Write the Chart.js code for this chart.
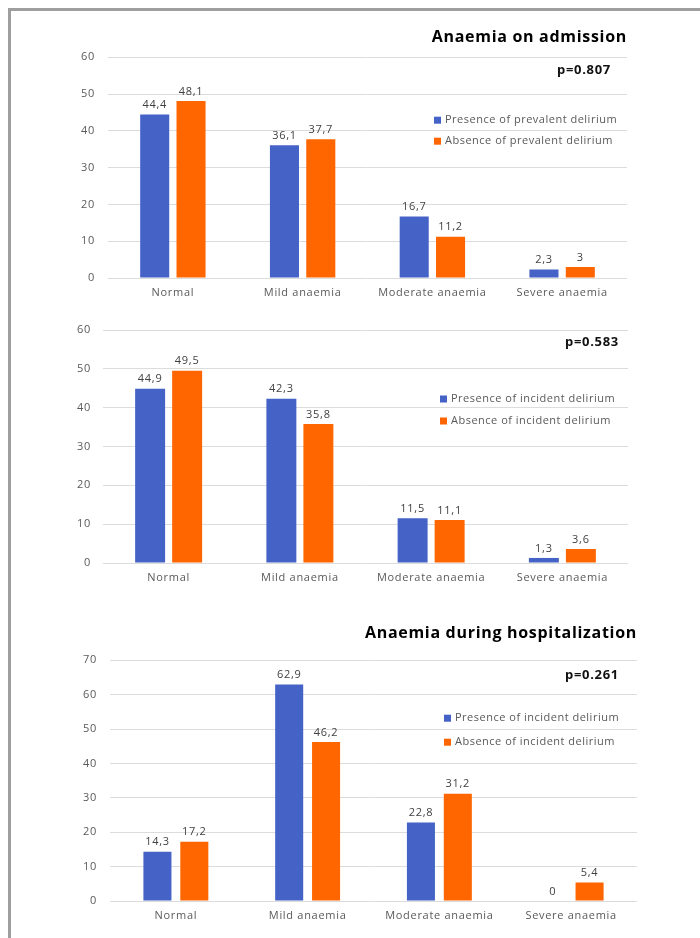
<!DOCTYPE html>
<html>
<head>
<meta charset="utf-8">
<script src="https://cdn.jsdelivr.net/npm/chart.js@4.4.0/dist/chart.umd.min.js"></script>
<style>
  body { margin: 0; background: #fff; width: 700px; height: 938px; position: relative; overflow: hidden; }
  .frame { position: absolute; left: 8px; top: 8px; width: 720px; height: 960px;
           border-top: 3px solid #9e9e9e; border-left: 3px solid #9e9e9e; }
  canvas { position: absolute; left: 0; }
</style>
</head>
<body>
<div class="frame"></div>
<canvas id="admissionPrevalent" width="700" height="300" style="top:10px"></canvas>
<canvas id="admissionIncident" width="700" height="285" style="top:310px"></canvas>
<canvas id="hospitalIncident" width="700" height="338" style="top:595px"></canvas>

<script>
const categories = ['Normal', 'Mild anaemia', 'Moderate anaemia', 'Severe anaemia'];

// % of patients in each anaemia group
const admissionPrevalentYes = [44.4, 36.1, 16.7, 2.3];
const admissionPrevalentNo = [48.1, 37.7, 11.2, 3];
const admissionIncidentYes = [44.9, 42.3, 11.5, 1.3];
const admissionIncidentNo = [49.5, 35.8, 11.1, 3.6];
const hospitalIncidentYes = [14.3, 62.9, 22.8, 0];
const hospitalIncidentNo = [17.2, 46.2, 31.2, 5.4];

const prevalentLabels = ['Presence of prevalent delirium', 'Absence of prevalent delirium'];
const incidentLabels = ['Presence of incident delirium', 'Absence of incident delirium'];

const BLUE = '#4562c6';
const ORANGE = '#ff6600';
const FONT = "'Open Sans', sans-serif";
const GREY_TEXT = '#595959';

// slightly wider lettering for every text on the canvas
const wideText = {
  id: 'wideText',
  beforeDraw(chart) {
    chart.ctx.letterSpacing = '0.7px';
  }
};

// numbers above each bar, with a decimal comma
const valueLabels = {
  id: 'valueLabels',
  afterDatasetsDraw(chart) {
    const ctx = chart.ctx;
    ctx.save();
    ctx.font = '11px ' + FONT;
    ctx.fillStyle = '#404040';
    ctx.textAlign = 'center';
    ctx.textBaseline = 'bottom';
    chart.data.datasets.forEach((ds, i) => {
      chart.getDatasetMeta(i).data.forEach((bar, j) => {
        ctx.fillText(String(ds.data[j]).replace('.', ','), bar.x, bar.y - 4);
      });
    });
    ctx.restore();
  }
};

// p-value and the legend that sits inside the plot area
const panelNotes = {
  id: 'panelNotes',
  afterDraw(chart, args, opts) {
    const ctx = chart.ctx;
    const area = chart.chartArea;
    ctx.save();
    ctx.font = 'bold 13px ' + FONT;
    ctx.fillStyle = '#111';
    ctx.textAlign = 'right';
    ctx.textBaseline = 'middle';
    ctx.fillText(opts.pValue, area.right - opts.pRight, area.top + opts.pTop);

    ctx.font = '11px ' + FONT;
    ctx.letterSpacing = '0.5px';
    ctx.textAlign = 'left';
    chart.data.datasets.forEach((ds, i) => {
      const x = area.right - opts.legendRight;
      const y = area.top + opts.legendTop + i * opts.legendGap;
      ctx.fillStyle = ds.backgroundColor;
      ctx.fillRect(x, y - 3.5, 7, 7);
      ctx.fillStyle = GREY_TEXT;
      ctx.fillText(ds.label, x + 11, y);
    });
    ctx.restore();
  }
};

function drawPanel(id, p) {
  new Chart(document.getElementById(id), {
    type: 'bar',
    data: {
      labels: categories,
      datasets: [
        { label: p.labels[0], data: p.yes, backgroundColor: BLUE },
        { label: p.labels[1], data: p.no, backgroundColor: ORANGE }
      ]
    },
    options: {
      responsive: false,
      animation: false,
      categoryPercentage: p.catPct,
      barPercentage: p.barPct,
      layout: { padding: { top: p.padTop, right: p.padRight, left: 0, bottom: 0 } },
      plugins: {
        legend: { display: false },
        tooltip: { enabled: false },
        title: {
          display: !!p.title,
          text: p.title,
          align: 'end',
          color: '#000',
          font: { family: FONT, size: 16, weight: 'bold' },
          padding: p.titlePad
        },
        panelNotes: p.notes
      },
      scales: {
        x: {
          grid: { display: false, drawTicks: false },
          border: { display: false },
          ticks: { color: GREY_TEXT, font: { family: FONT, size: 11 }, padding: 8 },
          afterFit: s => { s.height = 32; }
        },
        y: {
          min: 0,
          max: p.yMax,
          ticks: { stepSize: 10, color: GREY_TEXT, font: { family: FONT, size: 11 }, padding: p.tickPad },
          grid: { color: '#dcdcdc', drawTicks: false },
          border: { display: false },
          afterFit: s => { s.width = p.left; }
        }
      }
    },
    plugins: [wideText, valueLabels, panelNotes]
  });
}

drawPanel('admissionPrevalent', {
  yes: admissionPrevalentYes, no: admissionPrevalentNo, labels: prevalentLabels,
  title: 'Anaemia on admission', titlePad: { top: 18, bottom: 10 },
  yMax: 60, left: 108, padTop: 0, padRight: 73, tickPad: 13,
  catPct: 0.56, barPct: 0.8,
  notes: { pValue: 'p=0.807', pRight: 16, pTop: 13, legendRight: 193, legendTop: 63, legendGap: 21 }
});

drawPanel('admissionIncident', {
  yes: admissionIncidentYes, no: admissionIncidentNo, labels: incidentLabels,
  title: '', titlePad: 0,
  yMax: 60, left: 103, padTop: 20, padRight: 72, tickPad: 12,
  catPct: 0.564, barPct: 0.81,
  notes: { pValue: 'p=0.583', pRight: 9, pTop: 12, legendRight: 188, legendTop: 69, legendGap: 22 }
});

drawPanel('hospitalIncident', {
  yes: hospitalIncidentYes, no: hospitalIncidentNo, labels: incidentLabels,
  title: 'Anaemia during hospitalization', titlePad: { top: 29, bottom: 17 },
  yMax: 70, left: 110, padTop: 0, padRight: 63, tickPad: 13,
  catPct: 0.56, barPct: 0.76,
  notes: { pValue: 'p=0.261', pRight: 18, pTop: 15, legendRight: 193, legendTop: 58, legendGap: 24 }
});
</script>
</body>
</html>
